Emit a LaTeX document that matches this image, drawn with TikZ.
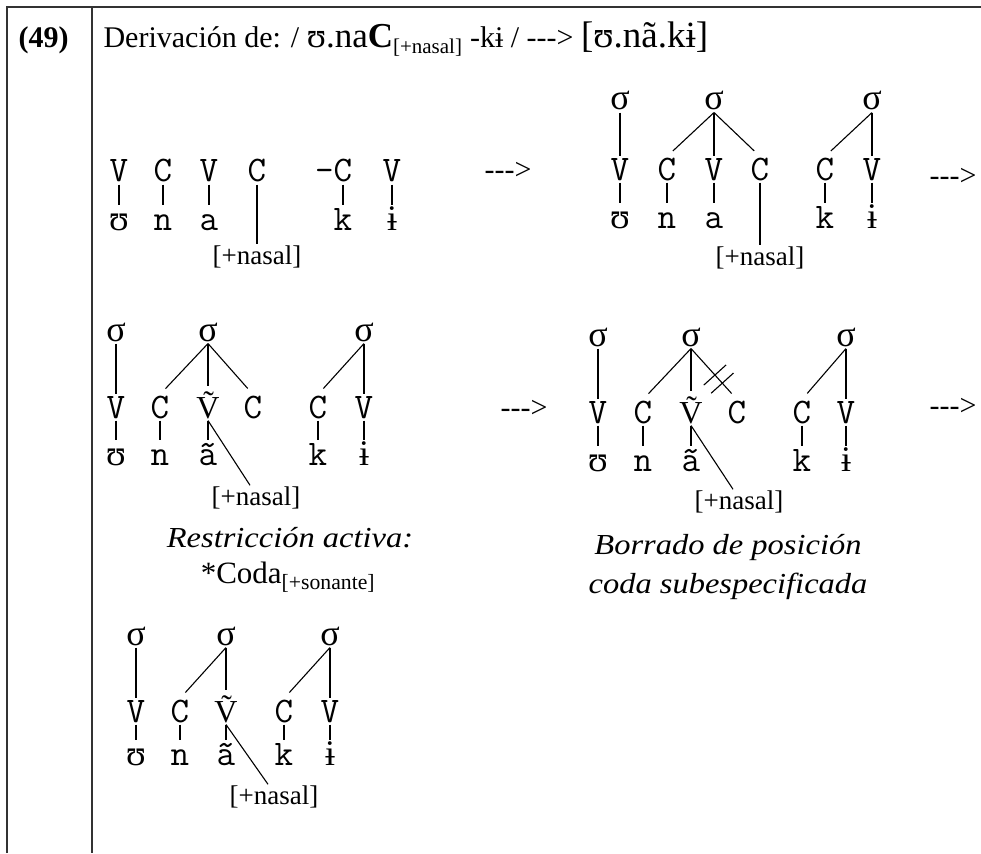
\documentclass[tikz,border=0pt]{standalone}
\usepackage{fontspec}
\setmainfont{Liberation Serif}
\newfontfamily\notefont[FakeStretch=1.12]{Liberation Serif}
\usetikzlibrary{calc}
\tikzset{
  every picture/.style={line width=1.1pt},
  seg/.style={font=\ttfamily\fontsize{36}{36}\selectfont, inner sep=2pt, text height=21pt, text depth=0pt, anchor=base},
  mel/.style={seg, text height=22pt},
  sig/.style={seg, font=\rmfamily\fontsize{36}{36}\selectfont, text height=15pt},
  nasv/.style={seg, font=\rmfamily\fontsize{32}{32}\selectfont, text height=29pt},
  feat/.style={font=\fontsize{27}{27}\selectfont, inner sep=1pt},
  note/.style={font=\notefont\itshape\fontsize{29}{39}\selectfont, align=center},
  constraint/.style={font=\fontsize{31}{31}\selectfont},
  derive/.style={font=\fontsize{30}{30}\selectfont, anchor=base, inner sep=0pt},
  head/.style={font=\fontsize{30}{30}\selectfont, anchor=base west, inner sep=0pt},
  link/.style={shorten >=8pt},
  rule/.style={line width=1.4pt, draw=black!80},
}

\begin{document}
\begin{tikzpicture}[x=1pt, y=-1pt]
  \useasboundingbox (0,0) rectangle (981,853);
  \draw[rule] (7,853) -- (7,7) -- (981,7);
  \draw[rule] (92,7) -- (92,853);

  \node[head, font=\bfseries\fontsize{30}{30}\selectfont] (num) at (18,48) {(49)};
  \node[head] (title) at (103,48) {Derivación de: / {\fontsize{35}{35}\selectfont ʊ.na\textbf{C}}\textsubscript{[+nasal]} -kɨ / -{}-{}-> {\fontsize{37}{37}\selectfont [ʊ.nã.kɨ]}};

  % underlying form
  \foreach \n/\x/\t in {v1/119/V, c1/163/C, v2/209/V, c2/257/C, c3/343/\llap{-}C, v3/392/V}
    \node[seg] (in-\n) at (\x,182) {\t};
  \foreach \n/\x/\t in {u/119/{\rmfamily ʊ}, n/163/n, a/209/a, k/343/k, i/392/{\rmfamily ɨ}}
    \node[mel] (in-\n) at (\x,230) {\t};
  \node[feat] (in-nas) at (257,257) {[+nasal]};
  \foreach \p/\q in {v1/u, c1/n, v2/a, c3/k, v3/i, c2/nas}
    \draw (in-\p.south) -- (in-\q.north);
  \node[derive] (to-syl) at (508,179) {-{}-{}->};

  % syllabified
  \foreach \n/\x in {s1/620, s2/714, s3/872}
    \node[sig] (syl-\n) at (\x,110) {σ};
  \foreach \n/\x/\t in {v1/620/V, c1/667/C, v2/714/V, c2/760/C, c3/825/C, v3/872/V}
    \node[seg] (syl-\n) at (\x,180) {\t};
  \foreach \n/\x/\t in {u/620/{\rmfamily ʊ}, n/667/n, a/714/a, k/825/k, i/872/{\rmfamily ɨ}}
    \node[mel] (syl-\n) at (\x,228) {\t};
  \node[feat] (syl-nas) at (760,258) {[+nasal]};
  \foreach \p/\q in {s1/v1, s2/v2, s3/v3}
    \draw (syl-\p.south) -- (syl-\q.north);
  \foreach \p/\q in {s2/c1, s2/c2, s3/c3}
    \draw[link] (syl-\p.south) -- (syl-\q.north);
  \foreach \p/\q in {v1/u, c1/n, v2/a, c3/k, v3/i, c2/nas}
    \draw (syl-\p.south) -- (syl-\q.north);
  \node[derive] (to-spread) at (953,185) {-{}-{}->};

  % nasal spreading
  \foreach \n/\x in {s1/116, s2/208, s3/364}
    \node[sig] (spread-\n) at (\x,341) {σ};
  \foreach \n/\x/\t in {v1/116/V, c1/160/C, c2/253/C, c3/318/C, v3/364/V}
    \node[seg] (spread-\n) at (\x,418) {\t};
  \node[nasv] (spread-v2) at (208,418) {Ṽ};
  \foreach \n/\x/\t in {u/116/{\rmfamily ʊ}, n/160/n, a/208/ã, k/318/k, i/364/{\rmfamily ɨ}}
    \node[mel] (spread-\n) at (\x,465) {\t};
  \node[feat] (spread-nas) at (256,498) {[+nasal]};
  \foreach \p/\q in {s1/v1, s2/v2, s3/v3}
    \draw (spread-\p.south) -- (spread-\q.north);
  \foreach \p/\q in {s2/c1, s2/c2, s3/c3}
    \draw[link] (spread-\p.south) -- (spread-\q.north);
  \foreach \p/\q in {v1/u, c1/n, v2/a, c3/k, v3/i}
    \draw (spread-\p.south) -- (spread-\q.north);
  \draw (spread-v2.south) -- ([xshift=-6pt]spread-nas.north);
  \node[note] (spread-note) at (290,538) {Restricción activa:};
  \node[constraint] (spread-con) at (288,577) {*Coda\textsubscript{[+sonante]}};
  \node[derive] (to-del) at (524,417) {-{}-{}->};

  % coda deletion
  \foreach \n/\x in {s1/598, s2/691, s3/846}
    \node[sig] (del-\n) at (\x,346) {σ};
  \foreach \n/\x/\t in {v1/598/V, c1/643/C, c2/737/C, c3/802/C, v3/846/V}
    \node[seg] (del-\n) at (\x,423) {\t};
  \node[nasv] (del-v2) at (691,423) {Ṽ};
  \foreach \n/\x/\t in {u/598/{\rmfamily ʊ}, n/643/n, a/691/ã, k/802/k, i/846/{\rmfamily ɨ}}
    \node[mel] (del-\n) at (\x,471) {\t};
  \node[feat] (del-nas) at (739,502) {[+nasal]};
  \foreach \p/\q in {s1/v1, s2/v2, s3/v3}
    \draw (del-\p.south) -- (del-\q.north);
  \foreach \p/\q in {s2/c1, s2/c2, s3/c3}
    \draw[link] (del-\p.south) -- (del-\q.north);
  \foreach \p/\q in {v1/u, c1/n, v2/a, c3/k, v3/i}
    \draw (del-\p.south) -- (del-\q.north);
  \draw (del-v2.south) -- ([xshift=-6pt]del-nas.north);
  % cut association line
  \foreach \t in {0.52, 0.68} {
    \coordinate (del-cut) at ($(del-s2.south)!\t!(del-c2.north)$);
    \draw ($(del-cut)!15pt!90:(del-c2.north)$) -- ($(del-cut)!15pt!-90:(del-c2.north)$);
  }
  \node[note] (del-note) at (728,567) {Borrado de posición\\ coda subespecificada};
  \node[derive] (to-out) at (953,415) {-{}-{}->};

  % surface form
  \foreach \n/\x in {s1/136, s2/226, s3/330}
    \node[sig] (out-\n) at (\x,645) {σ};
  \foreach \n/\x/\t in {v1/136/V, c1/180/C, c2/284/C, v3/330/V}
    \node[seg] (out-\n) at (\x,722) {\t};
  \node[nasv] (out-v2) at (226,722) {Ṽ};
  \foreach \n/\x/\t in {u/136/{\rmfamily ʊ}, n/180/n, a/226/ã, k/284/k, i/330/{\rmfamily ɨ}}
    \node[mel] (out-\n) at (\x,765) {\t};
  \node[feat] (out-nas) at (274,797) {[+nasal]};
  \foreach \p/\q in {s1/v1, s2/v2, s3/v3}
    \draw (out-\p.south) -- (out-\q.north);
  \foreach \p/\q in {s2/c1, s3/c2}
    \draw[link] (out-\p.south) -- (out-\q.north);
  \foreach \p/\q in {v1/u, c1/n, v2/a, c2/k, v3/i}
    \draw (out-\p.south) -- (out-\q.north);
  \draw (out-v2.south) -- ([xshift=-6pt]out-nas.north);
\end{tikzpicture}
\end{document}
